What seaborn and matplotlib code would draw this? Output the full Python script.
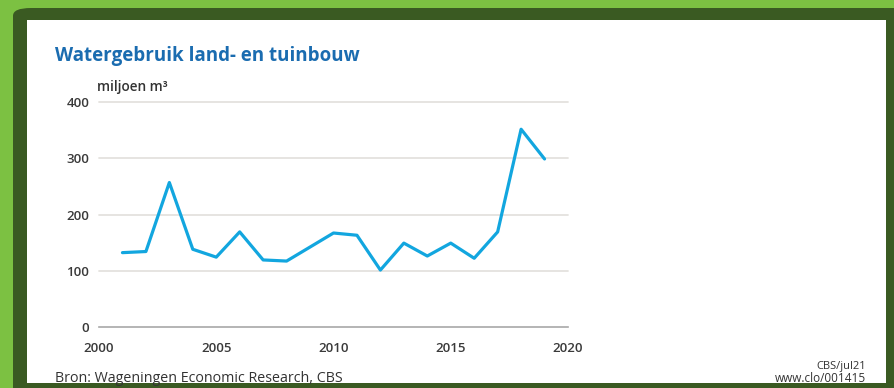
import matplotlib
matplotlib.use("Agg")
import matplotlib.pyplot as plt
from matplotlib.patches import FancyBboxPatch, Rectangle
import seaborn as sns
import pandas as pd

years = [2001, 2002, 2003, 2004, 2005, 2006, 2007, 2008, 2009, 2010,
         2011, 2012, 2013, 2014, 2015, 2016, 2017, 2018, 2019]
water_use = [132, 134, 257, 138, 124, 169, 119, 117, 142, 167,
             163, 101, 149, 126, 149, 122, 169, 352, 299]
x_ticks = [2000, 2005, 2010, 2015, 2020]
y_ticks = [0, 100, 200, 300, 400]

title = "Watergebruik land- en tuinbouw"
unit = "miljoen m³"
source = "Bron: Wageningen Economic Research, CBS"
credit1 = "CBS/jul21"
credit2 = "www.clo/001415"

sns.set_theme(style="white")
plt.rcParams['font.family'] = ['Open Sans', 'DejaVu Sans']

W, H = 894, 388
fig = plt.figure(figsize=(W / 100, H / 100), dpi=100)
fig.patch.set_facecolor("#7cc142")

def fx(px):
    return px / W

def fy(py):
    return 1 - py / H

# dark green frame
frame = FancyBboxPatch((fx(13), fy(420)), fx(950 - 13), (420 - 8) / H,
                       boxstyle="round,pad=0,rounding_size=0.02",
                       transform=fig.transFigure, facecolor="#3a5a22",
                       edgecolor="none", zorder=-2)
fig.patches.append(frame)
panel = Rectangle((fx(27), fy(383)), fx(886 - 27), (383 - 20) / H,
                  transform=fig.transFigure, facecolor="white",
                  edgecolor="none", zorder=-1)
fig.patches.append(panel)

ax = fig.add_axes([fx(99), fy(326.7), fx(568 - 99), (326.7 - 102.3) / H])
ax.set_facecolor("none")
ax.set_zorder(1)

df = pd.DataFrame({"jaar": years, "waarde": water_use})
sns.lineplot(data=df, x="jaar", y="waarde", ax=ax, color="#12a6df",
             linewidth=2.3, zorder=3)

ax.set_xlim(2000, 2020)
ax.set_ylim(0, 400)
ax.set_xticks(x_ticks)
ax.set_yticks(y_ticks)
ax.set_xlabel("")
ax.set_ylabel("")

for s in ["top", "right", "left"]:
    ax.spines[s].set_visible(False)
ax.spines["bottom"].set_color("#a8a8a8")
ax.spines["bottom"].set_linewidth(1.2)

for v in y_ticks[1:]:
    ax.axhline(v, color="#e4e2de", linewidth=1.3, zorder=1, clip_on=False)

ax.tick_params(axis="x", direction="out", length=6, width=1.2,
               color="#a8a8a8", labelsize=9.5, labelcolor="#3a3a3a", pad=5)
ax.tick_params(axis="y", length=0, labelsize=9.5, labelcolor="#3a3a3a", pad=7)
for lab in ax.get_yticklabels() + ax.get_xticklabels():
    lab.set_fontweight("semibold")

fig.text(fx(55), fy(56), title, color="#1a6cb0", fontsize=13.5,
         fontweight="bold", ha="left", va="center")
fig.text(fx(97), fy(87), unit, color="#333333", fontsize=9.8,
         fontweight="semibold", ha="left", va="center")
fig.text(fx(55), fy(378), source, color="#333333", fontsize=10.3,
         ha="left", va="center")
fig.text(fx(866), fy(367), credit1, color="#333333", fontsize=8,
         ha="right", va="center")
fig.text(fx(866), fy(379), credit2, color="#333333", fontsize=8.5,
         ha="right", va="center")

fig.savefig("out.png", dpi=100, facecolor=fig.get_facecolor())
